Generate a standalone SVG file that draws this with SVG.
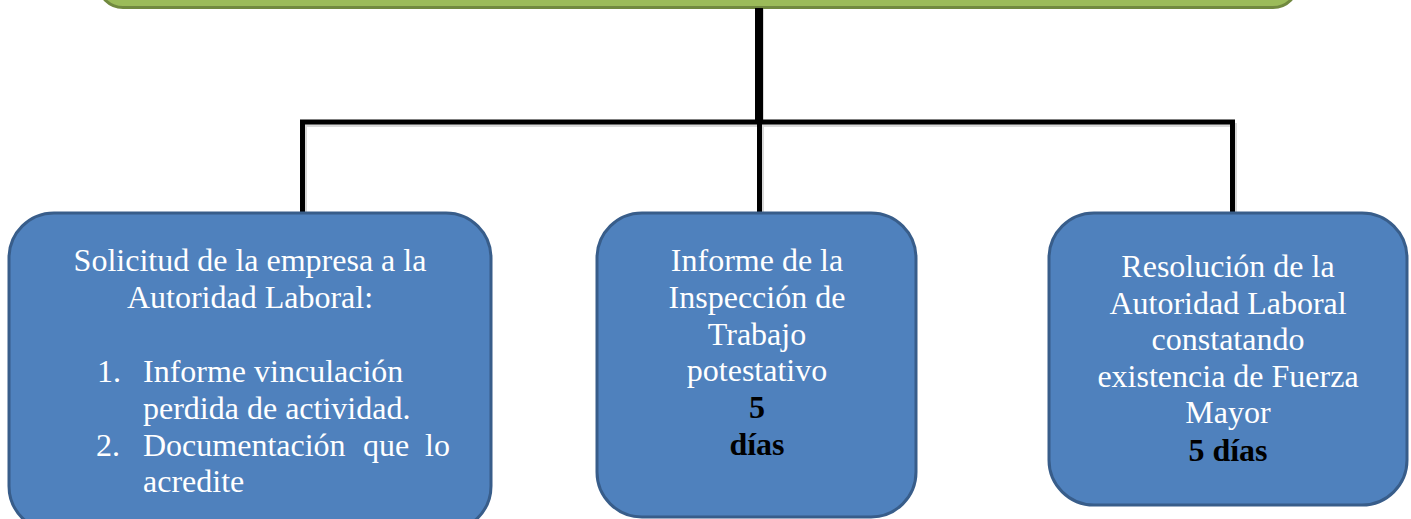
<svg xmlns="http://www.w3.org/2000/svg" width="1411" height="519" viewBox="0 0 1411 519">
<style>
.box{fill:#4F81BD;stroke:#385D8A;stroke-width:3}
.t{font-family:"Liberation Serif","Times New Roman",serif;font-size:32px;fill:#FFFFFF}
.c{text-anchor:middle}
.b{font-weight:bold;fill:#000000}
.ln{stroke:#000000;fill:none;stroke-linecap:butt}
.sh{stroke:#000000;stroke-opacity:0.15;fill:none}
</style>
<rect width="1411" height="519" fill="#FFFFFF"/>
<g id="top">
<rect x="98" y="-60" width="1200" height="67.5" rx="25" ry="25" fill="#9BBB59" stroke="#71893F" stroke-width="3"/>
</g>
<g id="connectors">
<path class="sh" d="M762 9 V121 M305 125 H1237 M305 125 V213 M762 125 V213 M1235 125 V213" stroke-width="4"/>
<path class="ln" d="M759 8 V122" stroke-width="8"/>
<path class="ln" d="M300 122 H1235" stroke-width="5"/>
<path class="ln" d="M302.5 120 V213" stroke-width="5"/>
<path class="ln" d="M759.5 122 V213" stroke-width="5"/>
<path class="ln" d="M1232.5 120 V213" stroke-width="5"/>
</g>
<g id="node-solicitud">
<rect class="box" x="9" y="213" width="482" height="318" rx="45" ry="45"/>
<text class="t c" x="250" y="271">Solicitud de la empresa a la</text>
<text class="t c" x="250" y="308">Autoridad Laboral:</text>
<text class="t" x="97" y="382">1.</text>
<text class="t" x="143" y="382">Informe vinculación</text>
<text class="t" x="143" y="419">perdida de actividad.</text>
<text class="t" x="96" y="456">2.</text>
<text class="t" x="143" y="456">Documentación</text>
<text class="t" x="363" y="456">que</text>
<text class="t" x="425" y="456">lo</text>
<text class="t" x="143" y="492">acredite</text>
</g>
<g id="node-informe">
<rect class="box" x="597" y="213" width="319" height="304" rx="45" ry="45"/>
<text class="t c" x="757" y="271">Informe de la</text>
<text class="t c" x="757" y="308">Inspección de</text>
<text class="t c" x="757" y="345">Trabajo</text>
<text class="t c" x="757" y="381">potestativo</text>
<text class="t c b" x="757" y="418">5</text>
<text class="t c b" x="757" y="455">días</text>
</g>
<g id="node-resolucion">
<rect class="box" x="1049" y="213" width="358" height="292" rx="45" ry="45"/>
<text class="t c" x="1228" y="277">Resolución de la</text>
<text class="t c" x="1228" y="314">Autoridad Laboral</text>
<text class="t c" x="1228" y="350">constatando</text>
<text class="t c" x="1228" y="387">existencia de Fuerza</text>
<text class="t c" x="1228" y="423">Mayor</text>
<text class="t c b" x="1228" y="461">5 días</text>
</g>
</svg>
